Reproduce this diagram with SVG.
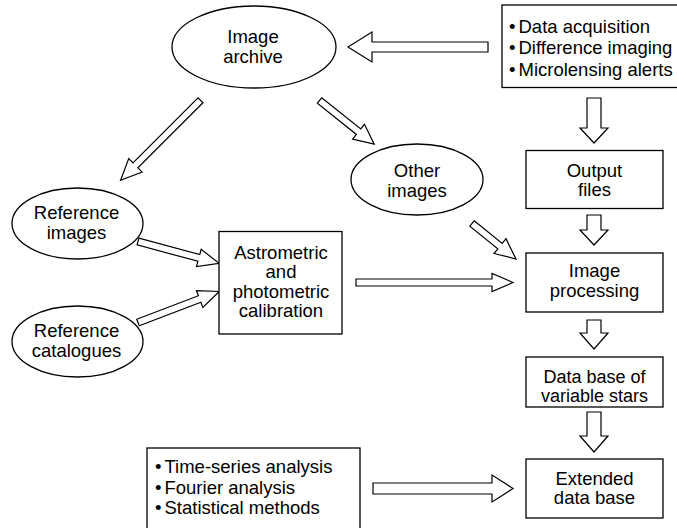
<svg xmlns="http://www.w3.org/2000/svg" width="677" height="528" viewBox="0 0 677 528">
  <style>
    .shape { fill: #fff; stroke: #000; stroke-width: 1.3; }
    .arrow { fill: #fff; stroke: #000; stroke-width: 1.2; stroke-linejoin: miter; }
    .lbl { font-family: "Liberation Sans", Arial, Helvetica, sans-serif; font-size: 18.5px; fill: #000; text-anchor: middle; }
    .tight { font-size: 18px; }
    .list { font-family: "Liberation Sans", Arial, Helvetica, sans-serif; font-size: 18.5px; fill: #000; }
  </style>
  <rect width="677" height="528" fill="#fff"/>

  <!-- block arrows: local frame, tail at x=0, tip at x=L -->
  <g id="connectors">
    <polygon class="arrow" transform="translate(488,47) rotate(180)" points="0,-5 116,-5 116,-15 140,0 116,15 116,5 0,5"/>
    <polygon class="arrow" transform="translate(200.5,100.3) rotate(135)" points="0,-3.5 92,-3.5 92,-9.5 113,0 92,9.5 92,3.5 0,3.5"/>
    <polygon class="arrow" transform="translate(319.5,100.5) rotate(38.6)" points="0,-3.5 50,-3.5 50,-9.5 70,0 50,9.5 50,3.5 0,3.5"/>
    <polygon class="arrow" transform="translate(472,223.5) rotate(38.9)" points="0,-3.5 36,-3.5 36,-9.5 56.5,0 36,9.5 36,3.5 0,3.5"/>
    <polygon class="arrow" transform="translate(138,241.5) rotate(15.1)" points="0,-3.5 63,-3.5 63,-9 84,0 63,9 63,3.5 0,3.5"/>
    <polygon class="arrow" transform="translate(138,322.5) rotate(-20.9)" points="0,-3.5 66,-3.5 66,-9 87,0 66,9 66,3.5 0,3.5"/>
    <polygon class="arrow" transform="translate(356,282.5)" points="0,-3.5 136,-3.5 136,-9 157,0 136,9 136,3.5 0,3.5"/>
    <polygon class="arrow" transform="translate(373,488.5)" points="0,-5.5 119,-5.5 119,-13.5 140,0 119,13.5 119,5.5 0,5.5"/>
    <polygon class="arrow" transform="translate(594,98) rotate(90)" points="0,-7 30,-7 30,-14 45,0 30,14 30,7 0,7"/>
    <polygon class="arrow" transform="translate(594,215) rotate(90)" points="0,-7 15,-7 15,-14 30,0 15,14 15,7 0,7"/>
    <polygon class="arrow" transform="translate(594,320) rotate(90)" points="0,-7 13,-7 13,-14 29,0 13,14 13,7 0,7"/>
    <polygon class="arrow" transform="translate(594,412) rotate(90)" points="0,-7 24,-7 24,-14 40,0 24,14 24,7 0,7"/>
  </g>

  <g id="acquisition">
    <rect class="shape" x="502" y="5" width="190" height="82.5"/>
    <text class="list" x="509" y="32.5"><tspan>•</tspan><tspan dx="3">Data acquisition</tspan></text>
    <text class="list" x="509" y="54"><tspan>•</tspan><tspan dx="3">Difference imaging</tspan></text>
    <text class="list" x="509" y="75.5"><tspan>•</tspan><tspan dx="3">Microlensing alerts</tspan></text>
  </g>

  <g id="image-archive">
    <ellipse class="shape" cx="254" cy="47" rx="82" ry="41"/>
    <text class="lbl" x="253" y="43">Image</text>
    <text class="lbl" x="253" y="63">archive</text>
  </g>

  <g id="other-images">
    <ellipse class="shape" cx="417" cy="179.5" rx="66" ry="35.5"/>
    <text class="lbl" x="417" y="176.5">Other</text>
    <text class="lbl" x="417" y="196.5">images</text>
  </g>

  <g id="reference-images">
    <ellipse class="shape" cx="77.5" cy="223.5" rx="65.5" ry="35.5"/>
    <text class="lbl" x="76.5" y="219">Reference</text>
    <text class="lbl" x="76.5" y="239">images</text>
  </g>

  <g id="reference-catalogues">
    <ellipse class="shape" cx="77.5" cy="341.5" rx="65.5" ry="35.5"/>
    <text class="lbl" x="76.5" y="337">Reference</text>
    <text class="lbl" x="76.5" y="357">catalogues</text>
  </g>

  <g id="calibration">
    <rect class="shape" x="219" y="231.5" width="123" height="102.5"/>
    <text class="lbl" x="281" y="258.5">Astrometric</text>
    <text class="lbl" x="281" y="278">and</text>
    <text class="lbl" x="281" y="297.5">photometric</text>
    <text class="lbl" x="281" y="317">calibration</text>
  </g>

  <g id="output-files">
    <rect class="shape" x="526" y="150.5" width="137" height="58"/>
    <text class="lbl" x="594.5" y="176.5">Output</text>
    <text class="lbl" x="594.5" y="195.5">files</text>
  </g>

  <g id="image-processing">
    <rect class="shape" x="526" y="253" width="137" height="59"/>
    <text class="lbl" x="594.5" y="277">Image</text>
    <text class="lbl" x="594.5" y="296.5">processing</text>
  </g>

  <g id="variable-stars">
    <rect class="shape" x="526" y="357" width="137" height="50"/>
    <text class="lbl tight" x="594.5" y="382.5">Data base of</text>
    <text class="lbl tight" x="594.5" y="401.5">variable stars</text>
  </g>

  <g id="extended-database">
    <rect class="shape" x="526" y="459" width="137" height="59"/>
    <text class="lbl" x="594.5" y="485">Extended</text>
    <text class="lbl" x="594.5" y="504">data base</text>
  </g>

  <g id="analysis">
    <rect class="shape" x="147" y="448" width="213" height="100"/>
    <text class="list" x="155" y="473"><tspan>•</tspan><tspan dx="3">Time-series analysis</tspan></text>
    <text class="list" x="155" y="494"><tspan>•</tspan><tspan dx="3">Fourier analysis</tspan></text>
    <text class="list" x="155" y="514"><tspan>•</tspan><tspan dx="3">Statistical methods</tspan></text>
  </g>
</svg>
